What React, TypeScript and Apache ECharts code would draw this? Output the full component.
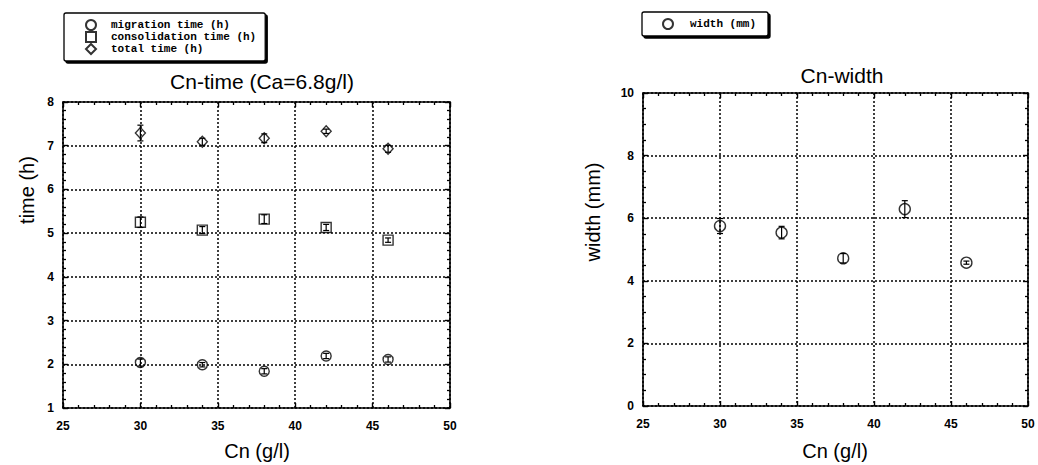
import React, { useEffect, useRef } from "react";
import * as echarts from "echarts";

const cn = [30, 34, 38, 42, 46];
const migrationTime = [2.04, 1.99, 1.84, 2.19, 2.11];
const migrationErr = [0.08, 0.05, 0.06, 0.06, 0.06];
const consolidationTime = [5.25, 5.07, 5.32, 5.13, 4.84];
const consolidationErr = [0.12, 0.08, 0.1, 0.07, 0.05];
const totalTime = [7.29, 7.09, 7.17, 7.33, 6.93];
const totalErr = [0.18, 0.08, 0.1, 0.05, 0.08];
const widthMm = [5.75, 5.54, 4.72, 6.29, 4.58];
const widthErr = [0.24, 0.2, 0.15, 0.27, 0.05];

const leftTitle = "Cn-time (Ca=6.8g/l)";
const rightTitle = "Cn-width";
const xName = "Cn (g/l)";
const leftYName = "time (h)";
const rightYName = "width (mm)";
const leftNames = ["migration time (h)", "consolidation time (h)", "total time (h)"];
const rightNames = ["width (mm)"];

const SANS = "'Liberation Sans', Arial, sans-serif";
const MONO = "'Liberation Mono', 'DejaVu Sans Mono', monospace";

function pairs(ys: number[]) {
  return cn.map((x, i) => [x, ys[i]]);
}
function errPairs(ys: number[], es: number[]) {
  return cn.map((x, i) => [x, ys[i], es[i]]);
}

function errorRender(params: any, api: any) {
  const x = api.value(0);
  const y = api.value(1);
  const e = api.value(2);
  const lo = api.coord([x, y - e]);
  const hi = api.coord([x, y + e]);
  const w = 3;
  const style = { stroke: "#000", lineWidth: 1.2 };
  return {
    type: "group",
    children: [
      { type: "line", shape: { x1: lo[0], y1: lo[1], x2: hi[0], y2: hi[1] }, style },
      { type: "line", shape: { x1: lo[0] - w, y1: lo[1], x2: lo[0] + w, y2: lo[1] }, style },
      { type: "line", shape: { x1: hi[0] - w, y1: hi[1], x2: hi[0] + w, y2: hi[1] }, style },
    ],
  };
}

const gridLine = { show: true, lineStyle: { color: "#000", type: [2, 2], width: 1.5 } };
const tickLabel = { color: "#000", fontFamily: SANS, fontWeight: "bold", fontSize: 12 };

function mainX(gridIndex: number) {
  return {
    type: "value",
    gridIndex,
    min: 25,
    max: 50,
    interval: 5,
    axisLine: { show: true, lineStyle: { color: "#000", width: 1.6 } },
    axisTick: { show: true, inside: true, length: 5, lineStyle: { color: "#000", width: 1.4 } },
    minorTick: { show: true, splitNumber: 5, length: 3, lineStyle: { color: "#000", width: 1.3 } },
    axisLabel: { ...tickLabel, margin: 12 },
    splitLine: gridLine,
  };
}
function mirrorX(gridIndex: number) {
  return {
    type: "value",
    gridIndex,
    position: "top",
    min: 25,
    max: 50,
    interval: 5,
    axisLine: { show: true, onZero: false, lineStyle: { color: "#000", width: 1.6 } },
    axisTick: { show: true, inside: true, length: 5, lineStyle: { color: "#000", width: 1.4 } },
    minorTick: { show: true, splitNumber: 5, length: 3, lineStyle: { color: "#000", width: 1.3 } },
    axisLabel: { show: false },
    splitLine: { show: false },
  };
}
function mainY(gridIndex: number, min: number, max: number, interval: number, minorSplit: number) {
  return {
    type: "value",
    gridIndex,
    min,
    max,
    interval,
    axisLine: { show: true, onZero: false, lineStyle: { color: "#000", width: 1.6 } },
    axisTick: { show: true, inside: true, length: 5, lineStyle: { color: "#000", width: 1.4 } },
    minorTick: { show: true, splitNumber: minorSplit, length: 3, lineStyle: { color: "#000", width: 1.3 } },
    axisLabel: { ...tickLabel, margin: 9 },
    splitLine: gridLine,
  };
}
function mirrorY(gridIndex: number, min: number, max: number, interval: number, minorSplit: number) {
  return {
    type: "value",
    gridIndex,
    position: "right",
    min,
    max,
    interval,
    axisLine: { show: true, onZero: false, lineStyle: { color: "#000", width: 1.6 } },
    axisTick: { show: true, inside: true, length: 5, lineStyle: { color: "#000", width: 1.4 } },
    minorTick: { show: true, splitNumber: minorSplit, length: 3, lineStyle: { color: "#000", width: 1.3 } },
    axisLabel: { show: false },
    splitLine: { show: false },
  };
}

const hollow = { color: "transparent", borderColor: "#000", borderWidth: 1.4 };

export default function App() {
  const ref = useRef<HTMLDivElement>(null);
  useEffect(() => {
    if (!ref.current) return;
    const chart = echarts.init(ref.current, undefined, { renderer: "svg" });
    const legendCommon = {
      orient: "vertical",
      itemWidth: 10,
      itemHeight: 10,
      itemGap: 0,
      backgroundColor: "#fff",
      borderColor: "#000",
      borderWidth: 1.3,
      borderRadius: 2,
      shadowColor: "#000",
      shadowBlur: 0,
      shadowOffsetX: 2,
      shadowOffsetY: 2,
      selectedMode: false,
      textStyle: { fontFamily: MONO, fontWeight: "bold", fontSize: 11, color: "#000", padding: [0, 0, 0, 10] },
    };
    const nameStyle = { fontFamily: SANS, fontSize: 20, fill: "#000", align: "center", verticalAlign: "middle" };
    chart.setOption({
      animation: false,
      backgroundColor: "#fff",
      title: [
        {
          text: leftTitle,
          left: 257,
          top: 66,
          textAlign: "center",
          textStyle: { fontFamily: SANS, fontWeight: "normal", fontSize: 21, color: "#000" },
        },
        {
          text: rightTitle,
          left: 837,
          top: 60,
          textAlign: "center",
          textStyle: { fontFamily: SANS, fontWeight: "normal", fontSize: 21, color: "#000" },
        },
      ],
      legend: [
        {
          ...legendCommon,
          left: 64,
          top: 13,
          padding: [6, 9, 6, 21],
          data: [
            { name: leftNames[0], icon: "circle" },
            { name: leftNames[1], icon: "rect" },
            { name: leftNames[2], icon: "diamond" },
          ],
        },
        {
          ...legendCommon,
          left: 642,
          top: 12,
          padding: [6, 12, 6, 20],
          textStyle: { ...legendCommon.textStyle, padding: [0, 0, 0, 12] },
          data: [{ name: rightNames[0], icon: "circle" }],
        },
      ],
      grid: [
        { left: 63, top: 102, width: 387, height: 306 },
        { left: 643, top: 93, width: 385, height: 313 },
      ],
      xAxis: [mainX(0), mirrorX(0), mainX(1), mirrorX(1)],
      yAxis: [mainY(0, 1, 8, 1, 5), mirrorY(0, 1, 8, 1, 5), mainY(1, 0, 10, 2, 4), mirrorY(1, 0, 10, 2, 4)],
      graphic: [
        { type: "text", x: 257, y: 451, style: { ...nameStyle, text: xName } },
        { type: "text", x: 835, y: 451, style: { ...nameStyle, text: xName } },
        { type: "text", x: 27, y: 190, rotation: Math.PI / 2, style: { ...nameStyle, text: leftYName } },
        { type: "text", x: 593, y: 212, rotation: Math.PI / 2, style: { ...nameStyle, text: rightYName } },
      ],
      series: [
        { type: "custom", xAxisIndex: 0, yAxisIndex: 0, renderItem: errorRender, data: errPairs(migrationTime, migrationErr), z: 3 },
        { type: "custom", xAxisIndex: 0, yAxisIndex: 0, renderItem: errorRender, data: errPairs(consolidationTime, consolidationErr), z: 3 },
        { type: "custom", xAxisIndex: 0, yAxisIndex: 0, renderItem: errorRender, data: errPairs(totalTime, totalErr), z: 3 },
        { type: "custom", xAxisIndex: 2, yAxisIndex: 2, renderItem: errorRender, data: errPairs(widthMm, widthErr), z: 3 },
        {
          name: leftNames[0],
          type: "scatter",
          xAxisIndex: 0,
          yAxisIndex: 0,
          symbol: "circle",
          symbolSize: 10,
          itemStyle: hollow,
          data: pairs(migrationTime),
          z: 4,
        },
        {
          name: leftNames[1],
          type: "scatter",
          xAxisIndex: 0,
          yAxisIndex: 0,
          symbol: "rect",
          symbolSize: 10,
          itemStyle: hollow,
          data: pairs(consolidationTime),
          z: 4,
        },
        {
          name: leftNames[2],
          type: "scatter",
          xAxisIndex: 0,
          yAxisIndex: 0,
          symbol: "diamond",
          symbolSize: [10, 11],
          itemStyle: hollow,
          data: pairs(totalTime),
          z: 4,
        },
        {
          name: rightNames[0],
          type: "scatter",
          xAxisIndex: 2,
          yAxisIndex: 2,
          symbol: "circle",
          symbolSize: 11,
          itemStyle: hollow,
          data: pairs(widthMm),
          z: 4,
        },
      ],
    });
    return () => chart.dispose();
  }, []);
  return (
    <div
      ref={ref}
      style={{ position: "fixed", left: 0, top: 0, width: 1038, height: 465, background: "#fff" }}
    />
  );
}
